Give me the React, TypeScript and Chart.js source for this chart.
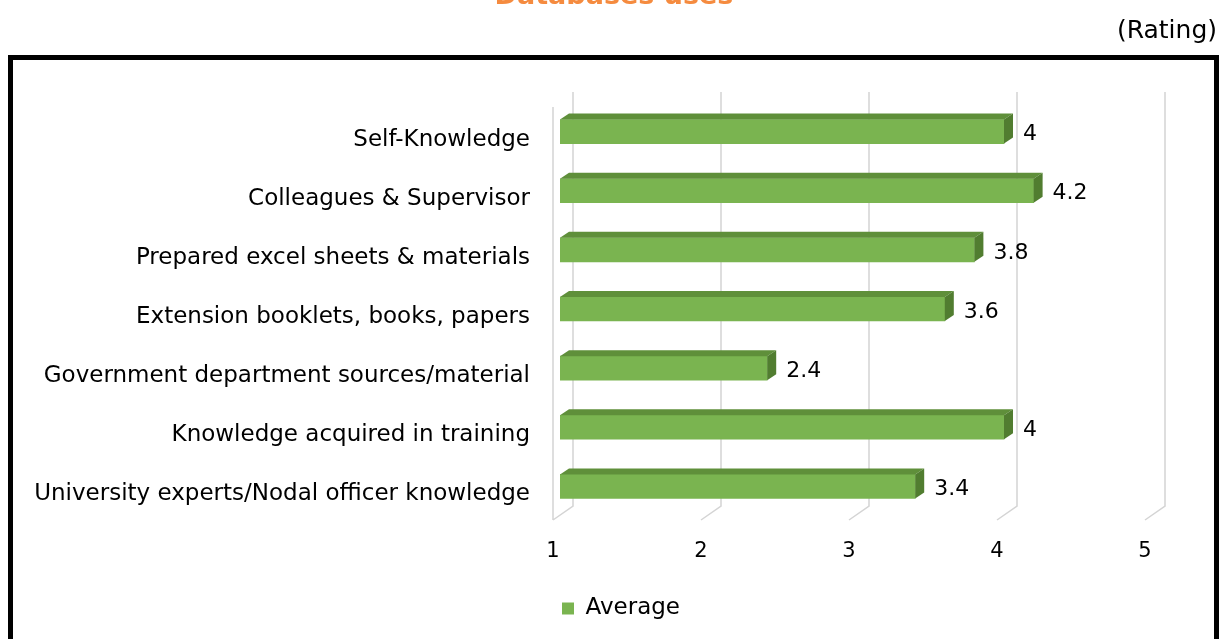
import React, { useEffect, useRef } from "react";
import { Chart, registerables } from "chart.js";

Chart.register(...registerables);

const chartTitle = "Databases uses";
const unitLabel = "(Rating)";
const seriesName = "Average";
const categories = [
  "Self-Knowledge",
  "Colleagues & Supervisor",
  "Prepared excel sheets & materials",
  "Extension booklets, books, papers",
  "Government department sources/material",
  "Knowledge acquired in training",
  "University experts/Nodal officer knowledge",
];
const averageValues = [4, 4.2, 3.8, 3.6, 2.4, 4, 3.4];
const tickValues = [1, 2, 3, 4, 5];

const FONT = "'DejaVu Sans', Verdana, sans-serif";
const FRONT = "#7ab450";
const TOP = "#5f8f3a";
const SIDE = "#517d30";
const GRID = "#d4d4d4";
const DEPTH_X = 9;
const DEPTH_Y = 6;

const threeDPlugin = {
  id: "threeD",
  beforeDraw(chart: any) {
    const ctx = chart.ctx;
    ctx.save();
    ctx.fillStyle = "#f58b3f";
    ctx.font = `bold 27px ${FONT}`;
    ctx.textAlign = "center";
    ctx.textBaseline = "alphabetic";
    ctx.fillText(chartTitle, 614, 4);
    ctx.fillStyle = "#000";
    ctx.font = `25px ${FONT}`;
    ctx.textAlign = "right";
    ctx.fillText(unitLabel, 1217, 38);
    ctx.restore();
  },
  beforeDatasetsDraw(chart: any) {
    const ctx = chart.ctx;
    const xs = chart.scales.x;
    const area = chart.chartArea;
    const top = area.top - 10;
    const backBottom = area.bottom - 10;
    const frontBottom = area.bottom + 4;
    ctx.save();
    ctx.strokeStyle = GRID;
    ctx.lineWidth = 1.5;
    tickValues.forEach((v, i) => {
      const px = xs.getPixelForValue(v);
      const back = px + 13;
      const front = px - 7;
      ctx.beginPath();
      ctx.moveTo(back, top);
      ctx.lineTo(back, backBottom);
      ctx.lineTo(front, frontBottom);
      if (i === 0) {
        ctx.moveTo(front, area.top + 5);
        ctx.lineTo(front, frontBottom);
      }
      ctx.stroke();
    });
    ctx.restore();
  },
  afterDatasetsDraw(chart: any) {
    const ctx = chart.ctx;
    const area = chart.chartArea;
    const meta = chart.getDatasetMeta(0);
    ctx.save();
    meta.data.forEach((el: any, i: number) => {
      const p = el.getProps(["x", "y", "base", "height"], true);
      const x = p.x;
      const y = p.y;
      const base = Math.max(p.base, area.left);
      const t = y - p.height / 2;
      const b = y + p.height / 2;
      ctx.fillStyle = TOP;
      ctx.beginPath();
      ctx.moveTo(base, t);
      ctx.lineTo(base + DEPTH_X, t - DEPTH_Y);
      ctx.lineTo(x + DEPTH_X, t - DEPTH_Y);
      ctx.lineTo(x, t);
      ctx.closePath();
      ctx.fill();
      ctx.fillStyle = SIDE;
      ctx.beginPath();
      ctx.moveTo(x, t);
      ctx.lineTo(x + DEPTH_X, t - DEPTH_Y);
      ctx.lineTo(x + DEPTH_X, b - DEPTH_Y);
      ctx.lineTo(x, b);
      ctx.closePath();
      ctx.fill();
      ctx.fillStyle = "#000";
      ctx.font = `22px ${FONT}`;
      ctx.textAlign = "left";
      ctx.textBaseline = "middle";
      ctx.fillText(String(averageValues[i]), x + 19, y + 3);
    });
    ctx.restore();
  },
};

export default function App() {
  const ref = useRef<HTMLCanvasElement | null>(null);
  useEffect(() => {
    if (!ref.current) return;
    const padLeft = 22;
    const rightSpace = 68;
    const chart = new Chart(ref.current, {
      type: "bar",
      data: {
        labels: categories,
        datasets: [
          {
            label: seriesName,
            data: averageValues,
            backgroundColor: FRONT,
            borderWidth: 0,
            barThickness: 24,
          },
        ],
      },
      options: {
        indexAxis: "y",
        responsive: false,
        animation: false,
        devicePixelRatio: 1,
        layout: { padding: { top: 102, right: 0, bottom: 9, left: padLeft } },
        scales: {
          x: {
            type: "linear",
            min: 1,
            max: 5,
            beginAtZero: false,
            ticks: {
              stepSize: 1,
              color: "#000",
              font: { family: FONT, size: 21 },
              padding: 23,
              labelOffset: -7,
            },
            grid: { display: false, drawTicks: false },
            border: { display: false },
            afterFit: (s: any) => {
              s.height = 71;
            },
          },
          y: {
            type: "category",
            ticks: {
              color: "#000",
              font: { family: FONT, size: 23 },
              padding: 30,
              labelOffset: 8,
              autoSkip: false,
            },
            grid: { display: false, drawTicks: false },
            border: { display: false },
            afterFit: (s: any) => {
              s.width = 560 - padLeft;
            },
          },
          yRight: {
            type: "category",
            position: "right",
            display: true,
            ticks: { display: false },
            grid: { display: false, drawTicks: false },
            border: { display: false },
            afterFit: (s: any) => {
              s.width = rightSpace;
            },
          },
        },
        plugins: {
          legend: {
            position: "bottom",
            labels: {
              boxWidth: 12,
              boxHeight: 12,
              color: "#000",
              font: { family: FONT, size: 23 },
              padding: 10,
            },
          },
          tooltip: { enabled: false },
        },
      },
      plugins: [threeDPlugin],
    });
    return () => chart.destroy();
  }, []);

  return (
    <div style={{ position: "absolute", left: 0, top: 0, width: 1220, height: 639, overflow: "hidden", background: "#fff" }}>
      <div
        style={{
          position: "absolute",
          left: 8,
          top: 55,
          width: 1211,
          height: 700,
          border: "5px solid #000",
          boxSizing: "border-box",
        }}
      />
      <canvas ref={ref} width={1220} height={639} style={{ position: "absolute", left: 0, top: 0 }} />
    </div>
  );
}
